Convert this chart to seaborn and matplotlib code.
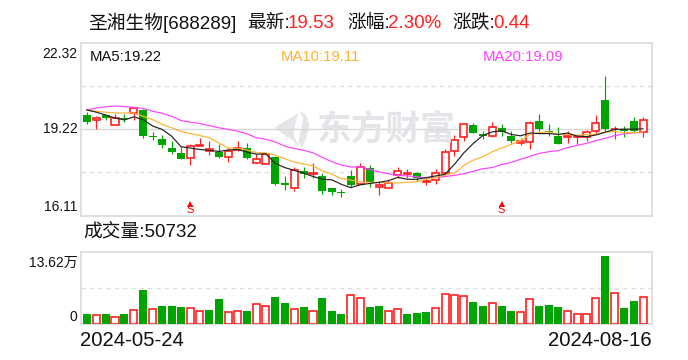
import matplotlib
matplotlib.use("Agg")
import matplotlib.pyplot as plt
from matplotlib.patches import Polygon
from matplotlib.transforms import ScaledTranslation
import numpy as np
import pandas as pd
import seaborn as sns

opens = [19.73,19.54,19.70,19.36,19.61,19.78,19.89,18.96,18.86,18.55,18.36,18.19,18.60,18.42,18.39,18.22,18.47,18.54,18.00,17.96,
         18.20,17.27,17.11,17.72,17.60,17.54,17.09,16.94,17.52,17.23,17.80,17.15,17.10,17.58,17.61,17.63,17.33,17.38,17.63,18.44,
         18.94,19.36,19.02,18.97,19.26,18.98,18.72,18.76,19.51,19.13,18.98,18.91,18.92,18.94,19.14,20.27,19.20,19.22,19.51,19.11]
closes = [19.45,19.61,19.60,19.61,19.58,19.97,18.95,18.92,18.63,18.39,18.14,18.60,18.65,18.51,18.21,18.42,18.53,18.17,18.15,18.33,
          17.25,17.22,17.73,17.59,17.63,17.00,16.96,16.91,17.20,17.85,17.33,17.19,17.26,17.69,17.64,17.44,17.35,17.64,18.40,18.83,
          19.40,19.08,18.98,19.28,19.10,18.78,18.77,19.44,19.22,19.09,18.67,18.95,18.98,19.10,19.44,19.20,19.22,19.16,19.13,19.53]
highs = [19.81,19.67,19.73,19.77,19.77,19.97,19.94,19.10,19.01,18.77,18.58,18.67,18.90,18.77,18.66,18.54,18.80,18.73,18.31,18.36,
         18.20,17.53,17.85,17.84,18.01,17.65,17.11,17.05,17.73,17.98,17.91,17.32,17.39,17.86,17.79,17.66,17.50,17.77,18.51,19.00,
         19.40,19.42,19.16,19.48,19.41,19.16,18.90,19.52,19.77,19.41,19.27,19.13,19.02,19.18,19.70,21.12,19.34,19.34,19.63,19.66]
lows = [19.41,19.23,19.55,19.36,19.46,19.55,18.89,18.82,18.55,18.32,18.14,17.92,18.60,18.27,18.17,18.03,18.42,18.13,18.00,17.96,
        17.21,17.03,17.00,17.45,17.44,16.88,16.84,16.78,17.15,17.23,17.15,16.84,17.08,17.47,17.47,17.35,17.20,17.25,17.55,18.25,
        18.77,19.08,18.86,18.91,18.96,18.70,18.63,18.48,19.13,18.98,18.67,18.73,18.67,18.78,19.02,19.13,18.84,18.91,19.08,18.91]
ma5 = [19.90,19.82,19.72,19.61,19.54,19.65,19.55,19.32,19.20,18.96,18.58,18.53,18.48,18.45,18.41,18.46,18.48,18.39,18.31,18.32,
       17.98,17.83,17.73,17.63,17.51,17.41,17.39,17.23,17.11,17.21,17.26,17.30,17.36,17.48,17.41,17.41,17.47,17.53,17.59,17.95,
       18.36,18.70,18.98,19.11,19.15,19.02,18.97,19.07,19.05,19.05,19.02,19.07,18.96,18.94,19.00,19.10,19.20,19.21,19.21,19.22]
ma10 = [19.90,19.85,19.82,19.79,19.79,19.79,19.67,19.55,19.38,19.26,19.13,19.05,18.98,18.90,18.72,18.53,18.52,18.46,18.36,18.36,
        18.27,18.15,18.03,17.96,17.89,17.71,17.59,17.44,17.38,17.32,17.30,17.30,17.28,17.28,17.30,17.32,17.41,17.47,17.57,17.63,
        17.91,18.10,18.22,18.40,18.53,18.66,18.80,19.02,19.09,19.11,19.03,19.02,18.98,19.01,19.03,19.10,19.13,19.08,19.08,19.11]
ma20 = [19.90,19.97,20.01,20.04,20.02,19.99,19.95,19.85,19.78,19.67,19.52,19.46,19.41,19.34,19.26,19.20,19.14,19.04,18.90,18.85,
        18.75,18.60,18.52,18.45,18.36,18.19,18.04,17.92,17.85,17.85,17.77,17.67,17.61,17.55,17.53,17.50,17.46,17.47,17.51,17.55,
        17.61,17.70,17.79,17.83,17.94,18.01,18.13,18.23,18.34,18.40,18.44,18.55,18.63,18.70,18.80,18.88,18.98,19.04,19.08,19.09]
volumes = [1.83,1.76,1.83,1.36,1.83,2.78,6.71,2.98,3.46,3.46,3.25,3.19,2.58,2.64,4.88,2.37,2.58,2.44,4.00,3.59,
           5.29,4.07,2.98,3.25,2.58,5.09,2.44,1.83,5.83,5.22,3.25,3.46,2.58,2.98,1.83,2.03,2.24,3.19,6.03,5.83,
           5.63,4.27,3.46,4.20,3.46,2.44,2.37,5.02,3.46,3.66,3.25,2.58,1.97,1.97,5.22,13.62,6.24,3.05,4.47,5.42]
vol_up = list("GRGRGRGRGGGRRGGRRGRRGGRGRGGGRRGGRRGGGRRRRGGRGGRRGGGRRRRGRGGR")
signal_days = [11, 44]
price_ticks = [22.32, 19.22, 16.11]
volume_ticks = [13.62, 0]
date_labels = ["2024-05-24", "2024-08-16"]

RED = "#FF2020"
GREEN = "#02A402"
ORANGE = "#FFB32E"
MAGENTA = "#FF40FF"
FRAME = "#D6D6DC"
GRID = "#DDDDDD"
W, H = 688, 360

sns.set_theme(style="white")
plt.rcParams["font.family"] = ["Liberation Sans", "Noto Sans CJK SC", "DejaVu Sans"]

fig = plt.figure(figsize=(W / 100, H / 100), dpi=100, facecolor="white")


def axes_px(left, top, right, bottom):
    return fig.add_axes([left / W, 1 - bottom / H, (right - left) / W, (bottom - top) / H])


def label(x, y, s, color="#111111", size=13.5, ha="left", **kw):
    fig.text(x / W, 1 - y / H, s, color=color, fontsize=size, ha=ha, va="center", **kw)


ax = axes_px(80.5, 42.5, 651.5, 215.5)
vx = axes_px(80.5, 251.5, 651.5, 323.5)
ax.patch.set_alpha(0)

idx = np.arange(len(opens))
o, c, h, l = map(np.array, (opens, closes, highs, lows))
rising = c >= o
up = idx[rising]
dn = idx[~rising]

# price panel
ax.vlines(up, l[up], h[up], color=RED, lw=0.85, zorder=3)
ax.vlines(dn, l[dn], h[dn], color=GREEN, lw=0.85, zorder=3)
ax.bar(up, c[up] - o[up], bottom=o[up], width=0.75, facecolor="white", edgecolor=RED, linewidth=1.2, zorder=4)
ax.bar(dn, c[dn] - o[dn], bottom=o[dn], width=0.85, color=GREEN, linewidth=0, zorder=4)
for vals, col in ((ma20, MAGENTA), (ma10, ORANGE), (ma5, "#222222")):
    sns.lineplot(x=idx, y=vals, color=col, lw=0.85, ax=ax, zorder=5, legend=False, errorbar=None)

# volume panel
frame = pd.DataFrame({"i": idx, "v": volumes, "d": vol_up})
gv = frame[frame.d == "G"]
rv = frame[frame.d == "R"]
sns.barplot(data=gv, x="i", y="v", native_scale=True, color=GREEN, width=0.85, saturation=1, linewidth=0, ax=vx, zorder=3)
n = len(vx.patches)
sns.barplot(data=rv, x="i", y="v", native_scale=True, color=RED, width=0.75, saturation=1, ax=vx, zorder=3)
for p in vx.patches[n:]:
    p.set_facecolor("white")
    p.set_edgecolor(RED)
    p.set_linewidth(1.2)

xlim = (-0.657, 59.89)
ax.set_xlim(xlim)
vx.set_xlim(xlim)
ax.set_ylim(16.14, 22.32)
vx.set_ylim(0, 14.54)

for a in (ax, vx):
    a.set_xticks([])
    a.set_xlabel("")
    a.set_ylabel("")
    a.tick_params(axis="y", length=0, pad=2.2, labelsize=10, labelcolor="#111111")
    for s in a.spines.values():
        s.set_color(FRAME)
        s.set_linewidth(1.1)
        s.set_visible(True)

ax.set_yticks(price_ticks)
ax.set_yticklabels([f"{v:.2f}" for v in price_ticks])
vx.set_yticks(volume_ticks)
vx.set_yticklabels(["13.62万", "0"])
for tick_label, dy in zip(ax.get_yticklabels(), (-10, 1, 10)):
    tick_label.set_transform(tick_label.get_transform() + ScaledTranslation(0, dy / 100, fig.dpi_scale_trans))
for tick_label, dy in zip(vx.get_yticklabels(), (-5, 8)):
    tick_label.set_transform(tick_label.get_transform() + ScaledTranslation(0, dy / 100, fig.dpi_scale_trans))

# grid lines
ymin, ymax = ax.get_ylim()
for frac, ls in ((0.25, (0, (3, 3))), (0.5, "-"), (0.75, (0, (3, 3)))):
    ax.axhline(ymin + frac * (ymax - ymin), color=GRID if ls != "-" else "#D8D8D8", lw=1.0, ls=ls, zorder=1)
vx.axhline(7.27, color=GRID, lw=1.0, ls=(0, (3, 3)), zorder=1)

# signal markers
tr = ax.get_xaxis_transform()
for d in signal_days:
    ax.plot([d], [0.066], marker="^", ms=4, color="#FF0000", mew=0, transform=tr, zorder=6, clip_on=False)
    ax.text(d, 0.029, "S", color="#FF0000", fontsize=8, ha="center", va="center", transform=tr, zorder=6)

# watermark
fig.text(386 / W, 1 - 130 / H, "东方财富", color="#E5E5E9", fontsize=25, fontweight="bold",
         ha="center", va="center", zorder=0)
leaf_a = [(88, 122), (108, 135), (118, 165), (110, 200), (95, 235), (85, 215), (95, 170), (100, 145)]
leaf_b = [(15, 172), (50, 150), (85, 130), (75, 165), (70, 195), (88, 230), (60, 205), (35, 190)]
for leaf in (leaf_a, leaf_b):
    pts = [((270 + x / 3) / W, 1 - (70 + y / 3) / H) for x, y in leaf]
    fig.add_artist(Polygon(pts, closed=True, facecolor="#E5E5E9", edgecolor="none",
                           transform=fig.transFigure, zorder=0))

# header
label(88, 23, "圣湘生物[688289]")
label(247, 23, "最新:")
label(288, 23, "19.53", color=RED)
label(347, 23, "涨幅:")
label(388, 23, "2.30%", color=RED)
label(452, 23, "涨跌:")
label(493, 23, "0.44", color=RED)

# moving average legend
label(90, 57, "MA5:19.22", size=10.7)
label(281, 57, "MA10:19.11", color=ORANGE, size=10.7)
label(483, 57, "MA20:19.09", color=MAGENTA, size=10.7)

label(83, 232.5, "成交量:50732")
label(80, 341, date_labels[0], size=14.6)
label(651.5, 341, date_labels[1], size=14.6, ha="right")

fig.savefig("out.png", dpi=100)
